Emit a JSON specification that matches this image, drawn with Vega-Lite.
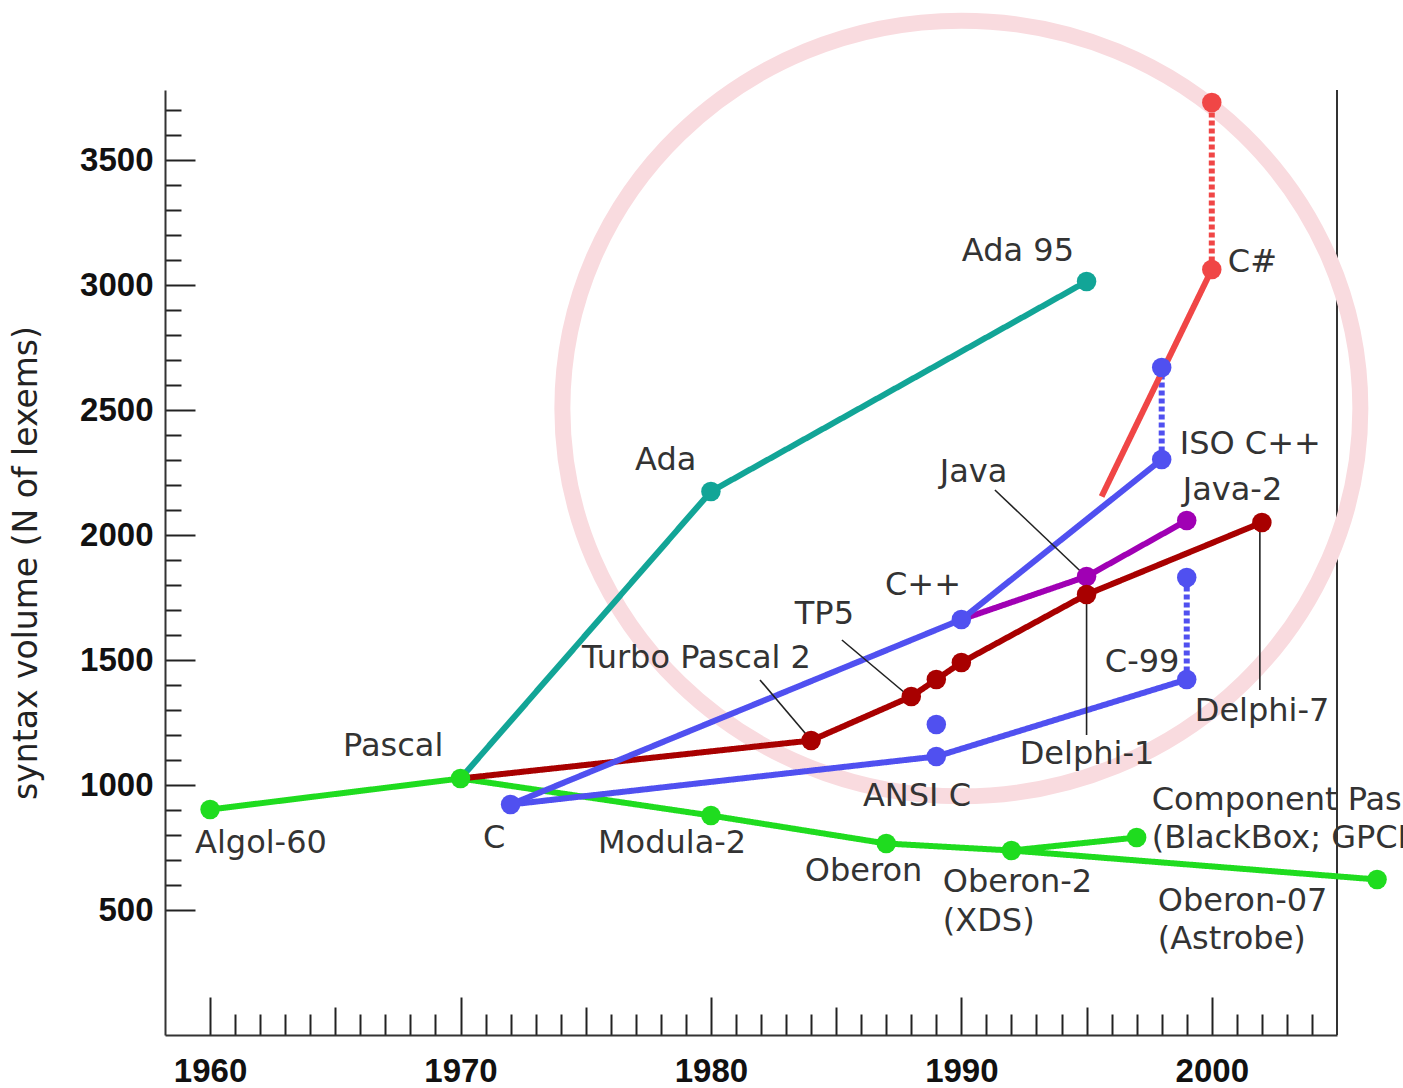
{
  "$schema": "https://vega.github.io/schema/vega-lite/v6.json",
  "width": 1172,
  "height": 945,
  "autosize": {"type": "none"},
  "padding": {"left": 165, "top": 90, "right": 66, "bottom": 53},
  "background": "white",
  "config": {"view": {"stroke": null}},
  "encoding": {
    "x": {
      "field": "year", "type": "quantitative",
      "scale": {"domain": [1958.2, 2005], "nice": false, "zero": false},
      "axis": {
        "title": null, "grid": false,
        "values": [1960,1961,1962,1963,1964,1965,1966,1967,1968,1969,1970,1971,1972,1973,1974,1975,1976,1977,1978,1979,1980,1981,1982,1983,1984,1985,1986,1987,1988,1989,1990,1991,1992,1993,1994,1995,1996,1997,1998,1999,2000,2001,2002,2003,2004],
        "format": "d",
        "labelExpr": "datum.value % 10 === 0 ? datum.label : ''",
        "domainColor": "#333", "domainWidth": 2,
        "tickColor": "#222", "tickWidth": 2,
        "tickSize": {"condition": [{"test": "datum.value % 10 === 0", "value": -38}, {"test": "datum.value % 5 === 0", "value": -28}], "value": -21},
        "labelPadding": 58,
        "labelFont": "Liberation Sans", "labelFontWeight": "bold", "labelFontSize": 33, "labelColor": "#111",
        "labelOverlap": false, "labelFlush": false
      }
    },
    "y": {
      "field": "n", "type": "quantitative",
      "scale": {"domain": [0, 3780], "nice": false, "zero": false},
      "axis": {
        "title": "syntax volume (N of lexems)",
        "titleFont": "DejaVu Sans", "titleFontSize": 33, "titleFontWeight": "normal", "titleColor": "#222", "titlePadding": 36,
        "grid": false,
        "values": [500,600,700,800,900,1000,1100,1200,1300,1400,1500,1600,1700,1800,1900,2000,2100,2200,2300,2400,2500,2600,2700,2800,2900,3000,3100,3200,3300,3400,3500,3600,3700],
        "format": "d",
        "labelExpr": "datum.value % 500 === 0 ? datum.label : ''",
        "domainColor": "#333", "domainWidth": 2,
        "tickColor": "#222", "tickWidth": 2,
        "tickSize": {"condition": {"test": "datum.value % 500 === 0", "value": -30}, "value": -16},
        "labelPadding": 42,
        "labelFont": "Liberation Sans", "labelFontWeight": "bold", "labelFontSize": 33, "labelColor": "#111",
        "labelOverlap": false, "labelFlush": false
      }
    }
  },
  "layer": [
    {
      "data": {"values": [{"year": 2005, "n": 0, "n2": 3780}]},
      "mark": {"type": "rule", "color": "#333", "strokeWidth": 2},
      "encoding": {"y2": {"field": "n2"}}
    },
    {
      "data": {"values": [{"year": 1990, "n": 2506}]},
      "mark": {"type": "point", "shape": "M -1 0 A 1 0.972 0 1 1 1 0 A 1 0.972 0 1 1 -1 0 Z", "size": 636804, "filled": false, "stroke": "#f9dbdf", "strokeWidth": 16, "opacity": 1}
    },
    {
      "data": {"values": [
        {"fam": "Oberon", "seg": "g1", "dash": "solid", "ord": 1, "year": 1960, "n": 902},
        {"fam": "Oberon", "seg": "g1", "dash": "solid", "ord": 2, "year": 1970, "n": 1026},
        {"fam": "Oberon", "seg": "g1", "dash": "solid", "ord": 3, "year": 1980, "n": 878},
        {"fam": "Oberon", "seg": "g1", "dash": "solid", "ord": 4, "year": 1987, "n": 766},
        {"fam": "Oberon", "seg": "g1", "dash": "solid", "ord": 5, "year": 1992, "n": 738},
        {"fam": "Oberon", "seg": "g1", "dash": "solid", "ord": 6, "year": 2006.6, "n": 622},
        {"fam": "Oberon", "seg": "g2", "dash": "solid", "ord": 1, "year": 1992, "n": 738},
        {"fam": "Oberon", "seg": "g2", "dash": "solid", "ord": 2, "year": 1997, "n": 790},
        {"fam": "Pascal", "seg": "r1", "dash": "solid", "ord": 1, "year": 1970, "n": 1026},
        {"fam": "Pascal", "seg": "r1", "dash": "solid", "ord": 2, "year": 1984, "n": 1178},
        {"fam": "Pascal", "seg": "r1", "dash": "solid", "ord": 3, "year": 1988, "n": 1354},
        {"fam": "Pascal", "seg": "r1", "dash": "solid", "ord": 4, "year": 1989, "n": 1422},
        {"fam": "Pascal", "seg": "r1", "dash": "solid", "ord": 5, "year": 1990, "n": 1490},
        {"fam": "Pascal", "seg": "r1", "dash": "solid", "ord": 6, "year": 1995, "n": 1762},
        {"fam": "Pascal", "seg": "r1", "dash": "solid", "ord": 7, "year": 2002, "n": 2050},
        {"fam": "Ada", "seg": "t1", "dash": "solid", "ord": 1, "year": 1970, "n": 1026},
        {"fam": "Ada", "seg": "t1", "dash": "solid", "ord": 2, "year": 1980, "n": 2174},
        {"fam": "Ada", "seg": "t1", "dash": "solid", "ord": 3, "year": 1995, "n": 3014},
        {"fam": "Java", "seg": "p1", "dash": "solid", "ord": 1, "year": 1990, "n": 1662},
        {"fam": "Java", "seg": "p1", "dash": "solid", "ord": 2, "year": 1995, "n": 1834},
        {"fam": "Java", "seg": "p1", "dash": "solid", "ord": 3, "year": 1999, "n": 2058},
        {"fam": "C", "seg": "b1", "dash": "solid", "ord": 1, "year": 1972, "n": 922},
        {"fam": "C", "seg": "b1", "dash": "solid", "ord": 2, "year": 1989, "n": 1114},
        {"fam": "C", "seg": "b1", "dash": "solid", "ord": 3, "year": 1999, "n": 1422},
        {"fam": "C", "seg": "b2", "dash": "solid", "ord": 1, "year": 1972, "n": 922},
        {"fam": "C", "seg": "b2", "dash": "solid", "ord": 2, "year": 1990, "n": 1662},
        {"fam": "C", "seg": "b2", "dash": "solid", "ord": 3, "year": 1998, "n": 2302},
        {"fam": "C", "seg": "b3", "dash": "dot", "ord": 1, "year": 1998, "n": 2302},
        {"fam": "C", "seg": "b3", "dash": "dot", "ord": 2, "year": 1998, "n": 2670},
        {"fam": "C", "seg": "b4", "dash": "dot", "ord": 1, "year": 1999, "n": 1422},
        {"fam": "C", "seg": "b4", "dash": "dot", "ord": 2, "year": 1999, "n": 1830},
        {"fam": "C#", "seg": "c1", "dash": "solid", "ord": 1, "year": 1995.6, "n": 2154},
        {"fam": "C#", "seg": "c1", "dash": "solid", "ord": 2, "year": 2000, "n": 3062},
        {"fam": "C#", "seg": "c2", "dash": "dot", "ord": 1, "year": 2000, "n": 3062},
        {"fam": "C#", "seg": "c2", "dash": "dot", "ord": 2, "year": 2000, "n": 3730}
      ]},
      "mark": {"type": "line", "strokeWidth": 6, "strokeCap": "butt", "strokeJoin": "round"},
      "encoding": {
        "color": {"field": "fam", "type": "nominal", "legend": null,
          "scale": {"domain": ["Oberon", "Ada", "Pascal", "C", "Java", "C#"], "range": ["#1fdc1f", "#12a597", "#a80000", "#5050f0", "#a000b4", "#f04646"]}},
        "strokeDash": {"field": "dash", "type": "nominal", "legend": null,
          "scale": {"domain": ["solid", "dot"], "range": [[1, 0], [5, 3]]}},
        "detail": {"field": "seg"},
        "order": {"field": "ord"}
      }
    },
    {
      "data": {"values": [
        {"year": 1981.96, "n": 1420, "year2": 1984.03, "n2": 1176},
        {"year": 1985.23, "n": 1580, "year2": 1987.94, "n2": 1352},
        {"year": 1991.34, "n": 2180, "year2": 1995.0, "n2": 1832},
        {"year": 1995.0, "n": 1760, "year2": 1995.0, "n2": 1200},
        {"year": 2001.92, "n": 2048, "year2": 2001.92, "n2": 1380}
      ]},
      "mark": {"type": "rule", "color": "#222", "strokeWidth": 1.6},
      "encoding": {"x2": {"field": "year2"}, "y2": {"field": "n2"}}
    },
    {
      "data": {"values": [
        {"fam": "Oberon", "year": 1960, "n": 902},
        {"fam": "Oberon", "year": 1970, "n": 1026},
        {"fam": "Oberon", "year": 1980, "n": 878},
        {"fam": "Oberon", "year": 1987, "n": 766},
        {"fam": "Oberon", "year": 1992, "n": 738},
        {"fam": "Oberon", "year": 1997, "n": 790},
        {"fam": "Oberon", "year": 2006.6, "n": 622},
        {"fam": "Ada", "year": 1980, "n": 2174},
        {"fam": "Ada", "year": 1995, "n": 3014},
        {"fam": "Java", "year": 1995, "n": 1834},
        {"fam": "Java", "year": 1999, "n": 2058},
        {"fam": "Pascal", "year": 1984, "n": 1178},
        {"fam": "Pascal", "year": 1988, "n": 1354},
        {"fam": "Pascal", "year": 1989, "n": 1422},
        {"fam": "Pascal", "year": 1990, "n": 1490},
        {"fam": "Pascal", "year": 1995, "n": 1762},
        {"fam": "Pascal", "year": 2002, "n": 2050},
        {"fam": "C", "year": 1972, "n": 922},
        {"fam": "C", "year": 1989, "n": 1114},
        {"fam": "C", "year": 1999, "n": 1422},
        {"fam": "C", "year": 1989, "n": 1242},
        {"fam": "C", "year": 1990, "n": 1662},
        {"fam": "C", "year": 1998, "n": 2302},
        {"fam": "C", "year": 1998, "n": 2670},
        {"fam": "C", "year": 1999, "n": 1830},
        {"fam": "C#", "year": 2000, "n": 3062},
        {"fam": "C#", "year": 2000, "n": 3730}
      ]},
      "mark": {"type": "point", "filled": true, "size": 380, "opacity": 1, "shape": "circle"},
      "encoding": {
        "color": {"field": "fam", "type": "nominal", "legend": null}
      }
    },
    {
      "data": {"values": [
        {"label": "Algol-60", "year": 1959.4, "n": 768},
        {"label": "Pascal", "year": 1965.31, "n": 1156},
        {"label": "C", "year": 1970.9, "n": 788},
        {"label": "Modula-2", "year": 1975.49, "n": 768},
        {"label": "Oberon", "year": 1983.75, "n": 656},
        {"label": "Oberon-2", "year": 1989.26, "n": 612},
        {"label": "(XDS)", "year": 1989.26, "n": 456},
        {"label": "Component Pascal", "year": 1997.6, "n": 940},
        {"label": "(BlackBox; GPCP)", "year": 1997.6, "n": 788},
        {"label": "Oberon-07", "year": 1997.84, "n": 536},
        {"label": "(Astrobe)", "year": 1997.84, "n": 384},
        {"label": "Ada", "year": 1976.97, "n": 2300},
        {"label": "Ada 95", "year": 1990.02, "n": 3136},
        {"label": "C#", "year": 2000.64, "n": 3092},
        {"label": "ISO C++", "year": 1998.72, "n": 2364},
        {"label": "Java", "year": 1989.14, "n": 2252},
        {"label": "Java-2", "year": 1998.84, "n": 2180},
        {"label": "C++", "year": 1986.95, "n": 1800},
        {"label": "TP5", "year": 1983.35, "n": 1684},
        {"label": "Turbo Pascal 2", "year": 1974.85, "n": 1508},
        {"label": "C-99", "year": 1995.73, "n": 1492},
        {"label": "Delphi-7", "year": 1999.32, "n": 1296},
        {"label": "Delphi-1", "year": 1992.33, "n": 1124},
        {"label": "ANSI C", "year": 1986.07, "n": 956}
      ]},
      "mark": {"type": "text", "align": "left", "baseline": "middle", "font": "DejaVu Sans", "fontSize": 32, "color": "#333"},
      "encoding": {"text": {"field": "label"}}
    }
  ]
}
